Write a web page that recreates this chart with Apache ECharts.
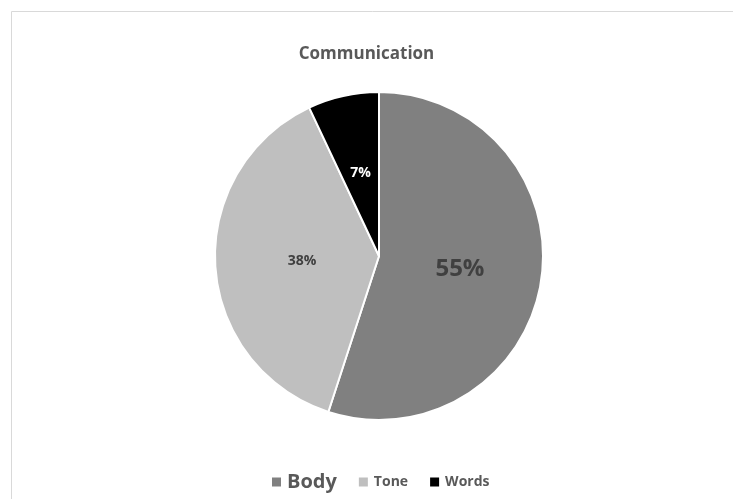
<!DOCTYPE html>
<html><head><meta charset="utf-8">
<script src="https://cdn.jsdelivr.net/npm/echarts@6/dist/echarts.min.js"></script>
<style>html,body{margin:0;padding:0;background:#fff}#c{width:733px;height:499px}</style>
</head><body><div id="c"></div>
<script>
const categories = ['Body', 'Tone', 'Words'];
const values = [55, 38, 7];
const colors = ['#808080', '#bfbfbf', '#000000'];
const labelColors = ['#404040', '#404040', '#ffffff'];
const labelSizes = [24, 14, 14];
const labelPads = [[0, 6, 6, 0], [20, 0, 0, 16], [0, 0, 8, 0]];
const legendSizes = [20, 14, 14];

const chart = echarts.init(document.getElementById('c'));
const FONT = '"Open Sans", "Noto Sans", sans-serif';
chart.setOption({
  animation: false,
  graphic: [{
    type: 'rect', silent: true,
    shape: { x: 11.5, y: 11.5, width: 740, height: 500 },
    style: { fill: 'none', stroke: '#d9d9d9', lineWidth: 1 }
  }],
  title: {
    text: 'Communication', left: 'center', top: 41,
    textStyle: { fontFamily: FONT, fontSize: 17, fontWeight: 'bold', color: '#595959' }
  },
  legend: {
    bottom: 2, left: 265, itemWidth: 11, itemHeight: 11, itemGap: 20,
    icon: 'rect',
    data: categories.map((c, i) => ({
      name: c,
      textStyle: { fontFamily: FONT, fontWeight: 'bold', color: '#595959', fontSize: legendSizes[i] }
    }))
  },
  series: [{
    type: 'pie', center: [379, 256], radius: [0, 164], startAngle: 90, clockwise: true,
    itemStyle: { borderColor: '#fff', borderWidth: 2 },
    label: { show: true, position: 'inner', formatter: '{d}%', fontFamily: FONT, fontWeight: 'bold' },
    labelLine: { show: false },
    data: categories.map((c, i) => ({
      name: c, value: values[i],
      itemStyle: { color: colors[i] },
      label: { color: labelColors[i], fontSize: labelSizes[i], padding: labelPads[i] }
    }))
  }]
});
</script></body></html>
